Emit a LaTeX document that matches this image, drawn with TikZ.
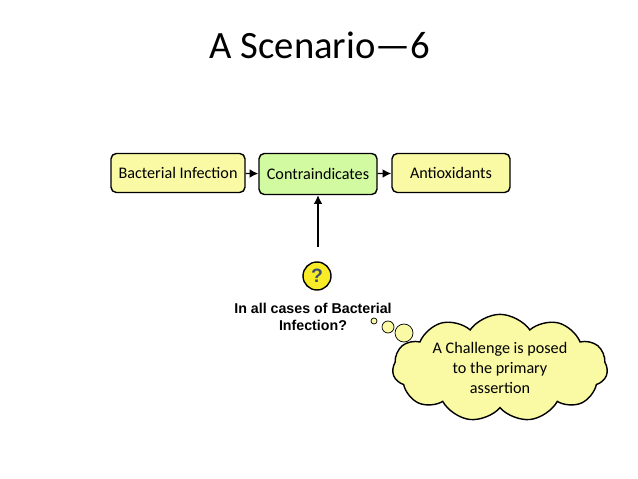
\documentclass[tikz,border=0pt]{standalone}
\usepackage{fontspec}
\setmainfont{Carlito}
\newfontfamily\arialfont{Liberation Sans}
\usetikzlibrary{shapes.symbols, arrows.meta}

\definecolor{boxyellow}{RGB}{250,250,165}
\definecolor{boxgreen}{RGB}{210,250,160}
\definecolor{qyellow}{RGB}{250,235,40}
\definecolor{qblue}{RGB}{60,80,110}

\tikzset{
	stage/.style={draw, thick, rounded corners=3pt, fill=boxyellow, minimum height=0.78cm,
		font=\fontsize{9.2}{11}\selectfont},
	link/.style={thick, arrows={-Latex[length=5pt, width=5pt]}}
}

\begin{document}
\begin{tikzpicture}[x=0.02cm, y=-0.02cm]
	\useasboundingbox (0,0) rectangle (638,479);

	\node (title) at (320,45) {\fontsize{22}{26}\selectfont A Scenario---6};

	\node [stage, minimum width=2.68cm] (infection) at (178,173) {Bacterial Infection};
	\node [stage, fill=boxgreen, minimum width=2.36cm, minimum height=0.82cm] (contra) at (318,174) {Contraindicates};
	\node [stage, minimum width=2.36cm] (anti) at (451,173) {Antioxidants};
	\coordinate (base) at (318,247);

	\draw [link] (infection) -- (contra);
	\draw [link] (contra) -- (anti);
	\draw [link] (base) -- (contra);

	\node [circle, draw=black, thick, fill=qyellow, minimum size=0.56cm, inner sep=0pt,
		text=qblue, font=\arialfont\bfseries\fontsize{11}{12}\selectfont] (quest) at (317,276) {?};
	\node [align=center, font=\arialfont\bfseries\fontsize{8.1}{10}\selectfont] (doubt) at (313,317)
		{In all cases of Bacterial\\Infection?};

	\node [circle, draw, fill=boxyellow, minimum size=0.12cm, inner sep=0pt] (b1) at (374,321) {};
	\node [circle, draw, fill=boxyellow, minimum size=0.24cm, inner sep=0pt] (b2) at (388,327) {};
	\node [circle, draw, fill=boxyellow, minimum size=0.36cm, inner sep=0pt] (b3) at (404,333) {};
	\node [cloud, cloud puffs=11, cloud puff arc=110, aspect=2.3, draw, thick, fill=boxyellow,
		minimum width=4.3cm, minimum height=1.95cm, align=center, inner sep=0pt,
		font=\fontsize{9.2}{11.5}\selectfont] (challenge) at (500,368)
		{A Challenge is posed\\to the primary\\assertion};
\end{tikzpicture}
\end{document}
